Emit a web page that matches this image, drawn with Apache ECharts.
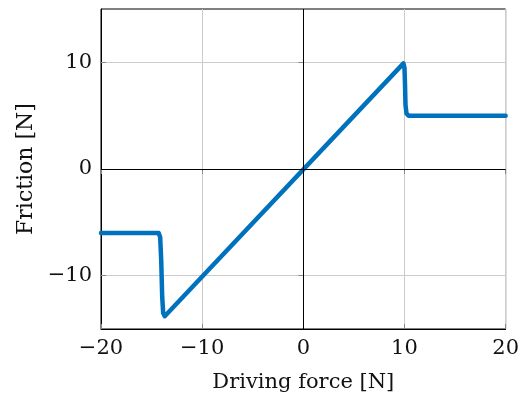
<!DOCTYPE html>
<html><head><meta charset="utf-8">
<script src="https://cdn.jsdelivr.net/npm/echarts@6/dist/echarts.min.js"></script>
<style>html,body{margin:0;padding:0;background:#fff}#c{width:522px;height:399px}</style>
</head><body><div id="c"></div>
<script>
const forceX = [-20, -14.3, -14.15, -14.05, -13.95, -13.85, -13.7, 9.9, 10.0, 10.05, 10.1, 10.2, 10.4, 20];
const frictionY = [-6, -6, -6.4, -8.5, -12, -13.5, -13.8, 9.9, 9.5, 8, 6, 5.2, 5, 5];
const xTicks = [-20, -10, 0, 10, 20];
const yTicks = [-10, 0, 10];

const font = 'DejaVu Serif';
const chart = echarts.init(document.getElementById('c'));
const data = forceX.map((x, i) => [x, frictionY[i]]);
const lbl = v => (v < 0 ? '\u2212' + Math.abs(v) : String(v));
chart.setOption({
  animation: false,
  grid: {left: 101, right: 13, top: 9, bottom: 70, show: true, borderColor: '#000', borderWidth: 1},
  xAxis: [{
    type: 'value', min: -20, max: 20, interval: 10,
    name: 'Driving force [N]', nameLocation: 'middle', nameGap: 43,
    nameTextStyle: {fontFamily: font, fontSize: 21, color: '#111'},
    axisLine: {show: true, onZero: false, lineStyle: {color: '#000'}},
    axisTick: {show: true, inside: true, length: 5, lineStyle: {color: '#888'}},
    axisLabel: {fontFamily: font, fontSize: 21, color: '#111', margin: 9, formatter: lbl},
    splitLine: {show: true, lineStyle: {color: '#ccc', width: 1}}
  }, {
    type: 'value', min: -20, max: 20, interval: 10, position: 'top',
    axisLine: {show: false}, axisLabel: {show: false}, splitLine: {show: false},
    axisTick: {show: true, inside: true, length: 5, lineStyle: {color: '#888'}}
  }],
  yAxis: [{
    type: 'value', min: -15, max: 15, interval: 5,
    name: 'Friction [N]', nameLocation: 'middle', nameGap: 64, nameRotate: 90,
    nameTextStyle: {fontFamily: font, fontSize: 22, color: '#111'},
    axisLine: {show: true, onZero: false, lineStyle: {color: '#000'}},
    axisTick: {show: true, inside: true, length: 5, lineStyle: {color: '#888'},
      customValues: yTicks},
    axisLabel: {fontFamily: font, fontSize: 21, color: '#111', margin: 9, formatter: lbl,
      customValues: yTicks},
    splitLine: {show: true, lineStyle: {color: ['#ccc']}, customValues: yTicks}
  }, {
    type: 'value', min: -15, max: 15, interval: 5, position: 'right',
    axisLine: {show: false}, axisLabel: {show: false}, splitLine: {show: false},
    axisTick: {show: true, inside: true, length: 5, lineStyle: {color: '#888'}, customValues: yTicks}
  }],
  series: [{
    type: 'line', data: data, showSymbol: false, symbol: 'none',
    lineStyle: {color: '#0072BD', width: 4.5, cap: 'round', join: 'round'},
    markLine: {
      silent: true, symbol: 'none', label: {show: false},
      lineStyle: {color: '#000', width: 1, type: 'solid'},
      data: [{xAxis: 0}, {yAxis: 0}]
    },
    z: 3
  }]
});
</script></body></html>
